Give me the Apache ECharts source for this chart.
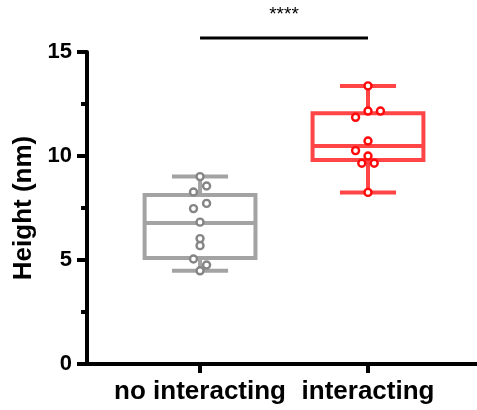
<!DOCTYPE html>
<html>
<head>
<meta charset="utf-8">
<script src="https://cdn.jsdelivr.net/npm/echarts@6/dist/echarts.min.js"></script>
<style>
  html, body { margin: 0; padding: 0; background: #fff; }
  #chart { width: 477px; height: 410px; }
</style>
</head>
<body>
<div id="chart"></div>
<script>
// 分组
const categories = ['no interacting', 'interacting'];

// 箱线统计 [min, Q1, median, Q3, max]
const boxNoInteracting = [4.48, 5.10, 6.78, 8.13, 9.01];
const boxInteracting = [8.25, 9.81, 10.48, 12.05, 13.37];

// 原始点
const pointsNoInteracting = [9.01, 8.56, 8.27, 7.72, 7.47, 6.82, 6.03, 5.69, 5.05, 4.76, 4.48];
const pointsInteracting = [13.37, 12.16, 12.16, 11.86, 10.72, 10.26, 10.0, 9.65, 9.65, 8.25];

// 点的水平错位（列偏移）
const jitterNoInteracting = [0, 1, -1, 1, -1, 0, 0, 0, -1, 1, 0];
const jitterInteracting = [0, 0, 1, -1, 0, -1, 0, -0.5, 0.5, 0];

// y 轴刻度
const yTicks = [0, 5, 10, 15];

// 显著性标记
const sigLabel = '****';
const sigLevel = 15.67;

const GRAY_BOX = '#a3a3a3';
const GRAY_PT = '#858585';
const RED_BOX = '#ff4545';
const RED_PT = '#ff0a0a';
const FONT = '"Liberation Sans", Arial, sans-serif';

const BOX_HALF = 0.33;
const CAP_HALF = 0.167;
const JIT_GRAY = 0.039;
const JIT_RED = 0.074;

const chart = echarts.init(document.getElementById('chart'));

const boxRender = (color) => (params, api) => {
  const x = api.value(0);
  const lo = api.value(1), q1 = api.value(2), med = api.value(3), q3 = api.value(4), hi = api.value(5);
  const pL = api.coord([x - BOX_HALF, q3]);
  const pR = api.coord([x + BOX_HALF, q1]);
  const cL = api.coord([x - CAP_HALF, hi])[0];
  const cR = api.coord([x + CAP_HALF, hi])[0];
  const xc = api.coord([x, 0])[0];
  const yHi = api.coord([x, hi])[1];
  const yLo = api.coord([x, lo])[1];
  const yMed = api.coord([x, med])[1];
  const st = { stroke: color, lineWidth: 4, fill: null };
  return {
    type: 'group',
    children: [
      { type: 'line', shape: { x1: xc, y1: yHi, x2: xc, y2: pL[1] }, style: st },
      { type: 'line', shape: { x1: xc, y1: pR[1], x2: xc, y2: yLo }, style: st },
      { type: 'line', shape: { x1: cL, y1: yHi, x2: cR, y2: yHi }, style: st },
      { type: 'line', shape: { x1: cL, y1: yLo, x2: cR, y2: yLo }, style: st },
      { type: 'rect', shape: { x: pL[0], y: pL[1], width: pR[0] - pL[0], height: pR[1] - pL[1] }, style: { stroke: color, lineWidth: 4, fill: '#fff' } },
      { type: 'line', shape: { x1: pL[0], y1: yMed, x2: pR[0], y2: yMed }, style: st }
    ]
  };
};

const option = {
  animation: false,
  backgroundColor: '#fff',
  grid: { left: 87, right: 0, top: 52, bottom: 46 },
  xAxis: {
    type: 'value',
    min: 0.327,
    max: 2.649,
    splitLine: { show: false },
    axisLine: { lineStyle: { color: '#000', width: 4 } },
    axisTick: { show: true, customValues: [1, 2], length: 9, lineStyle: { color: '#000', width: 4 } },
    axisLabel: {
      customValues: [1, 2],
      formatter: (v) => categories[Math.round(v) - 1] || '',
      color: '#000', fontSize: 26, fontWeight: 'bold', fontFamily: FONT, margin: 15
    }
  },
  yAxis: {
    type: 'value',
    min: 0,
    max: 15,
    interval: 5,
    name: 'Height (nm)',
    nameLocation: 'middle',
    nameGap: 38,
    nameTextStyle: { color: '#000', fontSize: 26, fontWeight: 'bold', fontFamily: FONT },
    splitLine: { show: false },
    axisLine: { show: true, lineStyle: { color: '#000', width: 4 } },
    axisTick: { show: true, length: 10, lineStyle: { color: '#000', width: 4 } },
    minorTick: { show: true, splitNumber: 2, length: 6, lineStyle: { color: '#000', width: 4 } },
    axisLabel: {
      customValues: yTicks,
      color: '#000', fontSize: 22, fontWeight: 'bold', fontFamily: FONT, margin: 15
    }
  },
  series: [
    {
      type: 'custom',
      renderItem: boxRender(GRAY_BOX),
      data: [[1].concat(boxNoInteracting)],
      clip: false,
      z: 2
    },
    {
      type: 'custom',
      renderItem: boxRender(RED_BOX),
      data: [[2].concat(boxInteracting)],
      clip: false,
      z: 2
    },
    {
      type: 'scatter',
      data: pointsNoInteracting.map((v, i) => [1 + jitterNoInteracting[i] * JIT_GRAY, v]),
      symbol: 'circle',
      symbolSize: 7,
      itemStyle: { color: '#fff', borderColor: GRAY_PT, borderWidth: 2.4, opacity: 1 },
      z: 5
    },
    {
      type: 'scatter',
      data: pointsInteracting.map((v, i) => [2 + jitterInteracting[i] * JIT_RED, v]),
      symbol: 'circle',
      symbolSize: 7,
      itemStyle: { color: '#fff', borderColor: RED_PT, borderWidth: 2.4, opacity: 1 },
      z: 5
    },
    {
      type: 'custom',
      clip: false,
      data: [[1, 2, sigLevel]],
      renderItem: (params, api) => {
        const a = api.coord([api.value(0), api.value(2)]);
        const b = api.coord([api.value(1), api.value(2)]);
        return {
          type: 'group',
          children: [
            { type: 'line', shape: { x1: a[0], y1: a[1], x2: b[0], y2: b[1] }, style: { stroke: '#000', lineWidth: 3 } },
            { type: 'text', style: { text: sigLabel, x: (a[0] + b[0]) / 2, y: a[1] - 23, align: 'center', verticalAlign: 'middle', fill: '#000', fontSize: 19, fontFamily: FONT } }
          ]
        };
      }
    }
  ]
};

chart.setOption(option);
</script>
</body>
</html>
